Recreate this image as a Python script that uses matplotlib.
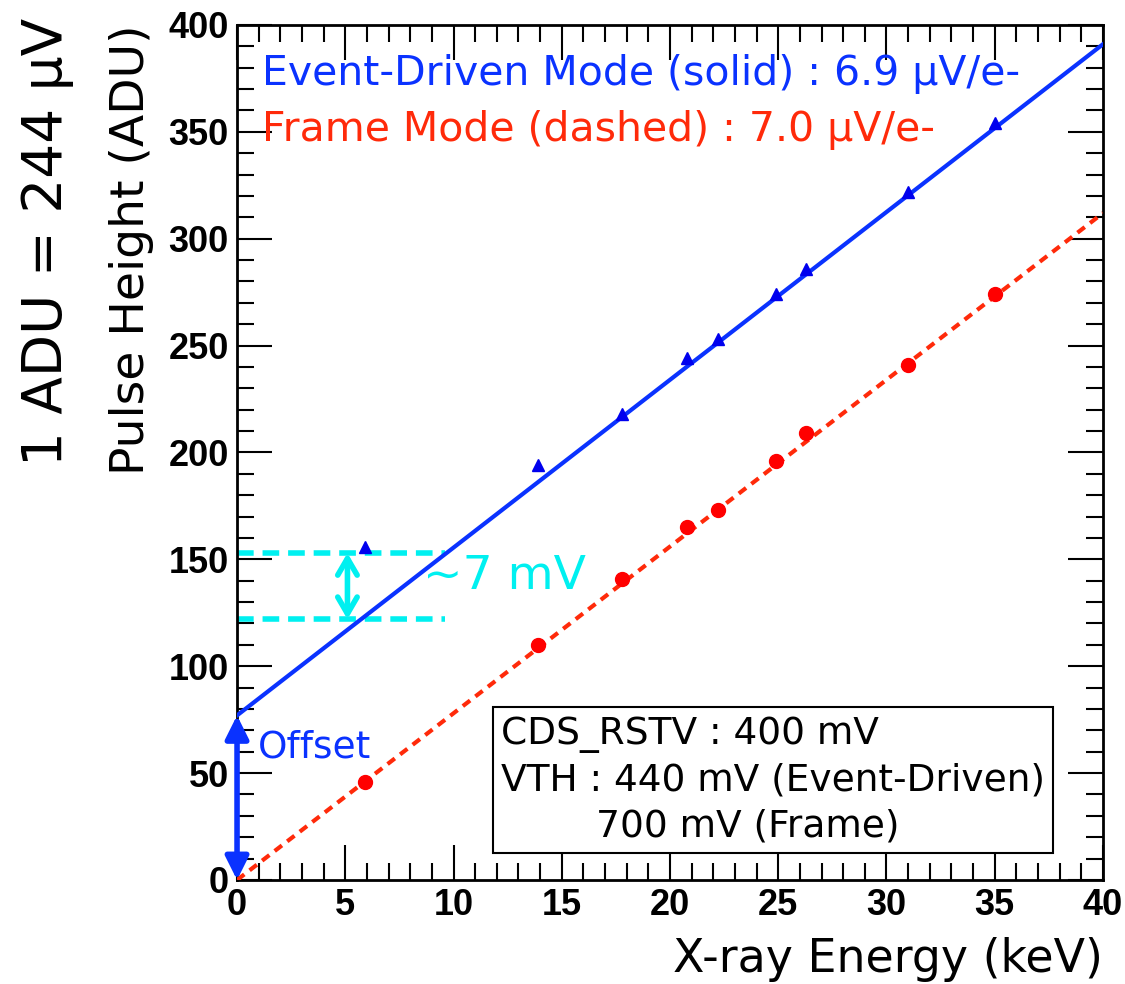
import numpy as np
import matplotlib
matplotlib.use("Agg")
import matplotlib.pyplot as plt
from matplotlib.ticker import MultipleLocator

# X-ray line energies (keV)
energy_ev = [5.9, 13.9, 17.8, 20.8, 22.2, 24.9, 26.3, 31.0, 35.0]
# pulse heights (ADU)
ph_event = [156, 194, 218, 244, 253, 274, 286, 322, 354]
ph_frame = [46, 110, 141, 165, 173, 196, 209, 241, 274]

# fitted lines
event_offset = 77.0
event_slope = 7.85
frame_offset = 0.0
frame_slope = 7.8

gap_low = 122
gap_high = 153

BLUE = "#0a32ff"
RED = "#ff2a0a"
CYAN = "#00f0f0"

fig = plt.figure(figsize=(11.25, 9.84), dpi=100)
ax = fig.add_axes([0.2107, 0.1057, 0.7697, 0.8689])

xx = np.array([0.0, 40.0])
ax.plot(xx, event_offset + event_slope * xx, color=BLUE, lw=3, zorder=3)
ax.plot(xx, frame_offset + frame_slope * xx, color=RED, lw=3, ls=(0, (2.2, 1.6)), zorder=3)
ax.plot(energy_ev, ph_event, "^", color="#0000ee", ms=8, zorder=4)
ax.plot(energy_ev, ph_frame, "o", color="#ff0000", ms=10, zorder=4)

# offset arrow
ax.annotate("", xy=(0, event_offset), xytext=(0, 0),
            arrowprops=dict(arrowstyle="<|-|>,head_length=1.4,head_width=0.7",
                            color=BLUE, lw=4, shrinkA=0, shrinkB=0),
            annotation_clip=False, zorder=5)
ax.text(0.95, 62, "Offset", color=BLUE, fontsize=27, va="center", ha="left")

# gap markers
ax.plot([0, 9.6], [gap_high, gap_high], color=CYAN, lw=4, ls=(0, (3, 1.6)), zorder=2)
ax.plot([0, 9.6], [gap_low, gap_low], color=CYAN, lw=4, ls=(0, (3, 1.6)), zorder=2)
ax.annotate("", xy=(5.1, gap_high), xytext=(5.1, gap_low),
            arrowprops=dict(arrowstyle="<->,head_length=1.2,head_width=0.7",
                            color=CYAN, lw=4, shrinkA=0, shrinkB=0), zorder=2)
ax.text(8.6, 142, "~7 mV", color=CYAN, fontsize=34, va="center", ha="left")

ax.text(1.15, 377, "Event-Driven Mode (solid) : 6.9 μV/e-", color=BLUE,
        fontsize=29.5, va="center", ha="left")
ax.text(1.15, 351, "Frame Mode (dashed) : 7.0 μV/e-", color=RED,
        fontsize=29.5, va="center", ha="left")

ax.text(12.2, 46.5, "CDS_RSTV : 400 mV\nVTH : 440 mV (Event-Driven)\n        700 mV (Frame)",
        fontsize=27, va="center", ha="left", linespacing=1.35,
        bbox=dict(boxstyle="square,pad=0.22", fc="white", ec="black", lw=1.5))

ax.set_xlim(0, 40)
ax.set_ylim(0, 400)
ax.xaxis.set_major_locator(MultipleLocator(5))
ax.xaxis.set_minor_locator(MultipleLocator(1))
ax.yaxis.set_major_locator(MultipleLocator(50))
ax.yaxis.set_minor_locator(MultipleLocator(10))
ax.tick_params(which="both", direction="in", top=True, right=True, width=1.5)
ax.tick_params(which="major", length=25, labelsize=26, pad=6)
ax.tick_params(which="minor", length=12)
for lab in ax.get_xticklabels() + ax.get_yticklabels():
    lab.set_fontfamily("Liberation Sans")
    lab.set_fontweight("bold")
for sp in ax.spines.values():
    sp.set_linewidth(2)

ax.set_xlabel("X-ray Energy (keV)", fontsize=33, loc="right", labelpad=10)
ax.set_ylabel("Pulse Height (ADU)", fontsize=34, loc="top", labelpad=10)
fig.text(0.042, 0.982, "1 ADU = 244 μV", fontsize=39.5, rotation=90, va="top", ha="center")

fig.savefig("out.png", dpi=100)
